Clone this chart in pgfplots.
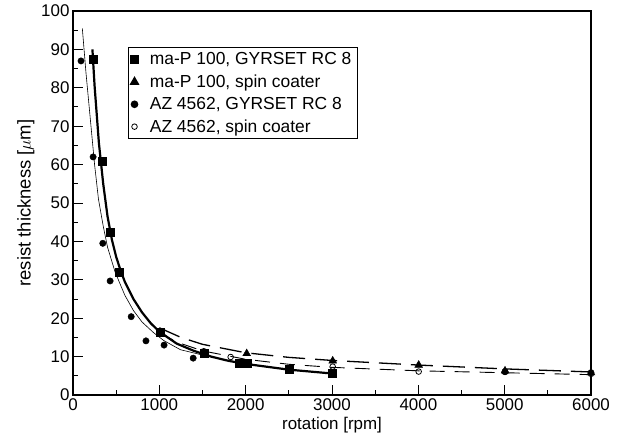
\documentclass[border=0pt]{standalone}
\usepackage{pgfplots}
\pgfplotsset{compat=1.18}
\usepackage{fontspec}
\setmainfont{Liberation Sans}
\begin{document}
\begin{tikzpicture}
\begin{axis}[
  width=518bp, height=384bp, scale only axis,
  xmin=0, xmax=6000, ymin=0, ymax=100,
  xtick distance=1000, ytick distance=10,
  minor x tick num=1, minor y tick num=1,
  xtick pos=left, ytick pos=left,
  tick align=inside,
  major tick length=10bp, minor tick length=5bp,
  axis line style={line width=1.3bp},
  every tick/.style={black, line width=1bp},
  scaled x ticks=false,
  /pgf/number format/assume math mode=true,
  /pgf/number format/1000 sep={},
  font=\fontsize{17}{20}\selectfont,
  xlabel={rotation [rpm]}, ylabel={resist thickness [$\mu$m]},
  ylabel style={font=\fontsize{18.5}{21}\selectfont},
  legend style={at={(0.106,0.906)}, anchor=north west, draw=black, line width=1.2bp,
    font=\fontsize{17.5}{20}\selectfont, row sep=4.5bp, inner xsep=2bp, inner ysep=3bp,
    legend cell align=left, nodes={inner xsep=4bp}},
  legend image code/.code={\draw[mark repeat=2,mark phase=2] plot coordinates {(0cm,0cm) (0.12cm,0cm) (0.24cm,0cm)};
    \path (0.5cm,0cm);},
]
% fitted curves
\addplot[black, line width=2.2bp, forget plot] coordinates {
 (225,90) (250,80.5) (300,65.6) (350,55) (400,46.5) (450,40.5) (500,36) (550,32.5)
 (600,29.5) (700,25) (800,21.5) (900,18.7) (1000,16.5) (1200,13.4) (1400,11.5)
 (1600,10) (1800,8.9) (2000,8.1) (2500,6.6) (3000,5.6)};
\addplot[black, line width=0.6bp, forget plot] coordinates {
 (108,95.5) (150,84) (200,72) (250,60) (295,51) (350,44) (400,38.5) (488,32)
 (600,26) (700,22) (800,19) (930,16.3) (1050,14.2) (1244,11.8) (1500,10.4)
 (2000,8.0) (2500,6.6) (3000,5.6)};
\addplot[black, line width=1.3bp, dash pattern=on 22bp off 10bp, forget plot] coordinates {
 (1000,17.5) (1250,15) (1500,13.2) (2000,11) (2500,9.8) (3000,9) (4000,7.8) (5000,6.8) (6000,6.0)};
\addplot[black, line width=0.9bp, dash pattern=on 15bp off 10bp, forget plot] coordinates {
 (1000,16) (1250,13.4) (1500,11.5) (2000,9.3) (2500,8) (3000,7.2) (4000,6.3) (5000,5.8) (6000,5.3)};
% measured points
\addplot[only marks, mark=square*, mark size=4bp, black] coordinates {
 (233,87.4) (337,61) (430,42.5) (539,32) (1012,16.3) (1515,11) (1922,8.3)
 (2012,8.2) (2503,6.6) (3008,5.8)};
\addlegendentry{ma-P 100, GYRSET RC 8}
\addplot[only marks, mark=triangle*, mark size=4.5bp, black] coordinates {
 (2012,10.8) (3008,8.9) (4004,7.8) (5004,6.3) (6000,5.8)};
\addlegendentry{ma-P 100, spin coater}
\addplot[only marks, mark=*, mark size=3.2bp, black] coordinates {
 (93,87) (233,62) (345,39.5) (430,29.7) (674,20.4) (845,14.1) (1055,13)
 (1392,9.6) (5004,6.1) (6000,5.8)};
\addlegendentry{AZ 4562, GYRSET RC 8}
\addplot[only marks, mark=o, mark size=2.8bp, black, mark options={line width=0.8bp, fill=white}] coordinates {
 (1515,11.4) (1826,9.9) (3008,7.4) (4004,6.1) (5004,6.0) (6000,5.5)};
\addlegendentry{AZ 4562, spin coater}
\end{axis}
\pgfresetboundingbox
\path[use as bounding box] ([shift={(-73bp,-44bp)}]current axis.south west)
  rectangle ([shift={(36bp,11bp)}]current axis.north east);
\end{tikzpicture}
\end{document}
